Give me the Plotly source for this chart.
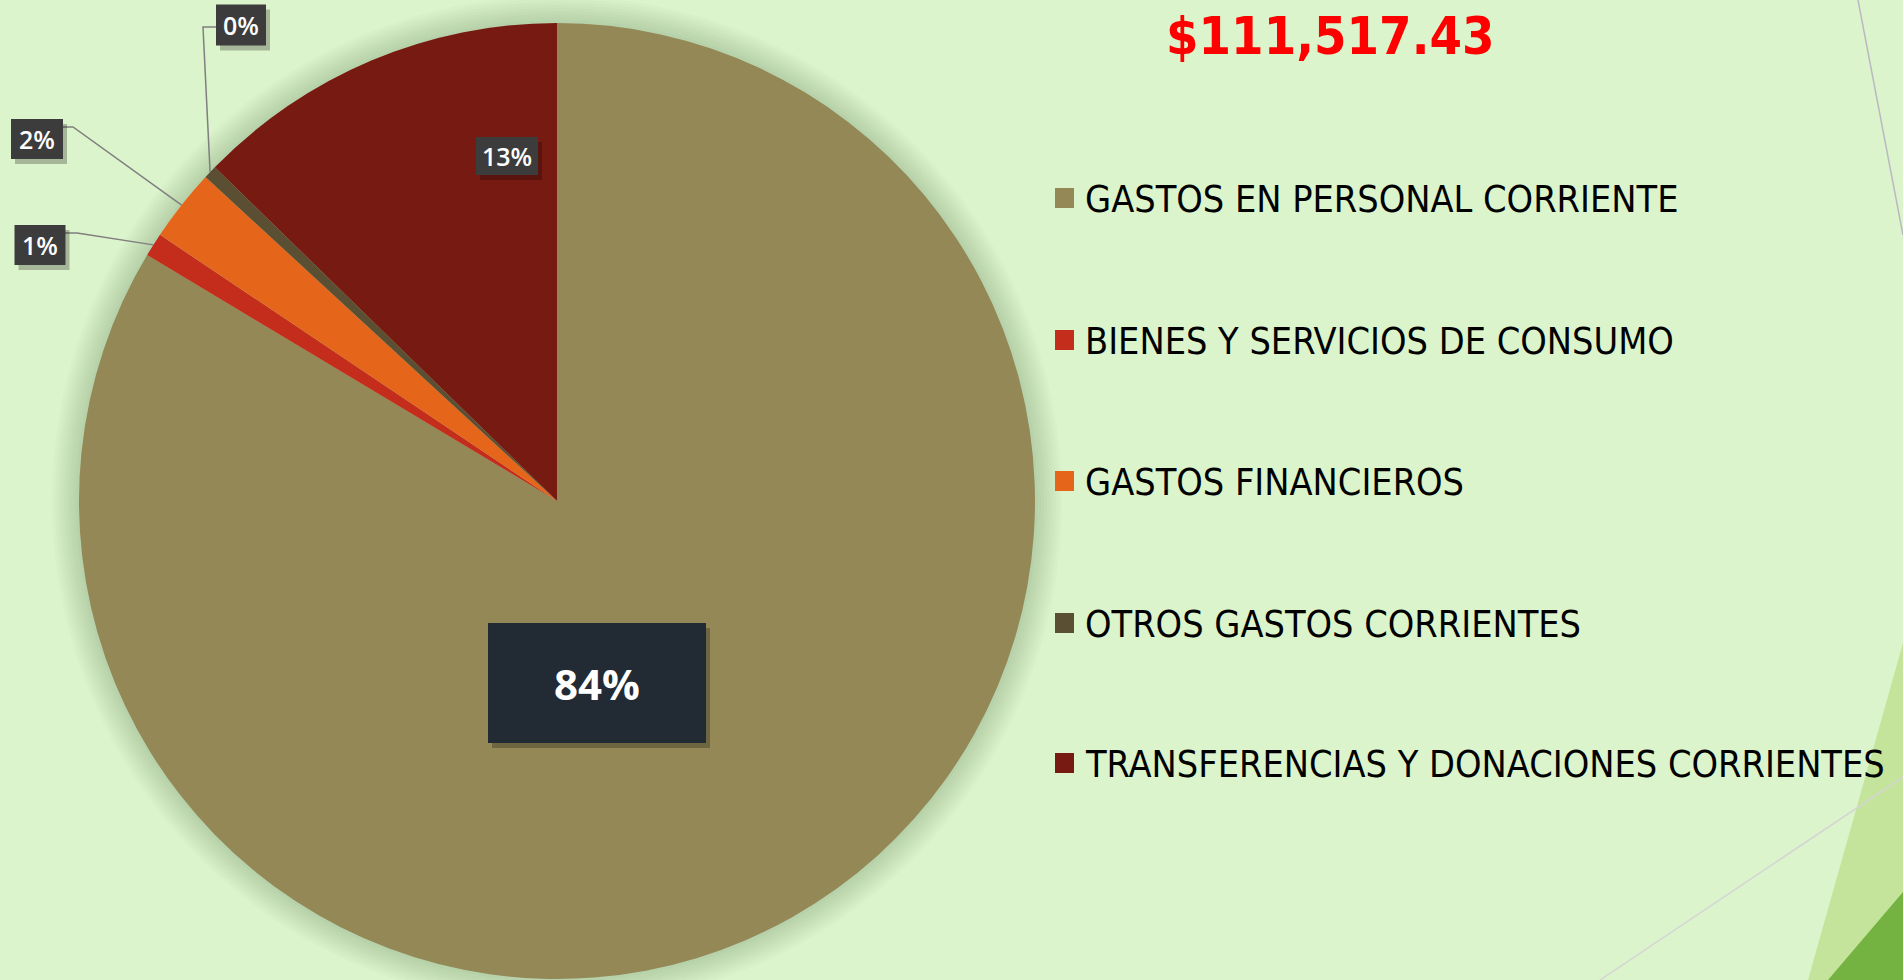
import math
import plotly.graph_objects as go

# datos del gráfico
categorias = [
    "GASTOS EN PERSONAL CORRIENTE",
    "BIENES Y SERVICIOS DE CONSUMO",
    "GASTOS FINANCIEROS",
    "OTROS GASTOS CORRIENTES",
    "TRANSFERENCIAS Y DONACIONES CORRIENTES",
]
montos = [93228.57, 892.14, 2732.18, 501.83, 14162.71]
colores = ["#938856", "#C42C1C", "#E5661B", "#5A4E33", "#771B12"]

W, H = 1903, 980
BG = "#DCF4CB"

# geometría del pastel en píxeles
CX, CY, R = 557, 501, 478


def px(x):
    return x / W


def py(y):
    return 1 - y / H


total = sum(montos)
pcts = [m / total for m in montos]
etiquetas = [f"{round(100 * p):.0f}%" for p in pcts]

fig = go.Figure(go.Pie(
    labels=categorias,
    values=montos,
    marker=dict(colors=colores, line=dict(width=0)),
    sort=False,
    direction="clockwise",
    rotation=0,
    textinfo="none",
    hoverinfo="label+percent",
    showlegend=False,
    domain=dict(x=[px(CX - R), px(CX + R)], y=[py(CY + R), py(CY - R)]),
))

shapes = []

# decoración de la diapositiva
shapes.append(dict(type="path", xref="paper", yref="paper", layer="below",
                   path=f"M {px(1808)} {py(980)} L {px(1903)} {py(643)} L {px(1903)} {py(980)} Z",
                   fillcolor="#C5E49B", line=dict(width=0)))
shapes.append(dict(type="path", xref="paper", yref="paper", layer="below",
                   path=f"M {px(1828)} {py(980)} L {px(1903)} {py(892)} L {px(1903)} {py(980)} Z",
                   fillcolor="#74B242", line=dict(width=0)))
shapes.append(dict(type="line", xref="paper", yref="paper", layer="below",
                   x0=px(1600), y0=py(980), x1=px(1903), y1=py(777),
                   line=dict(color="#D4D4D4", width=1.5)))
shapes.append(dict(type="line", xref="paper", yref="paper", layer="below",
                   x0=px(1858), y0=py(0), x1=px(1903), y1=py(235),
                   line=dict(color="#B9B9C2", width=1.5)))

# sombra suave alrededor del pastel
for d in range(3, 30, 3):
    shapes.append(dict(type="circle", xref="paper", yref="paper", layer="below",
                       x0=px(CX - R - d), x1=px(CX + R + d),
                       y0=py(CY + R + d), y1=py(CY - R - d),
                       fillcolor="rgba(60,100,60,0.028)", line=dict(width=0)))

# posiciones de las cajas de etiquetas (centro x, centro y, ancho, alto) en píxeles
cajas = {
    0: (597, 683, 218, 120),
    1: (40, 245, 51, 40),
    2: (37, 139, 52, 40),
    3: (241, 25, 50, 41),
    4: (507, 156, 62, 38),
}
# líneas guía: punto de inicio en la caja y codo
guias = {
    1: [(65, 233), (77, 233)],
    2: [(62, 127), (73, 127)],
    3: [(216, 27), (203, 27)],
}

acum = 0.0
annotations = []
for i, p in enumerate(pcts):
    medio = acum + p / 2
    acum += p
    ang = math.radians(360 * medio)
    tx, ty = CX + R * math.sin(ang), CY - R * math.cos(ang)
    if i in guias:
        (x0, y0), (x1, y1) = guias[i]
        shapes.append(dict(type="path", xref="paper", yref="paper",
                           path=f"M {px(x0)} {py(y0)} L {px(x1)} {py(y1)} L {px(tx)} {py(ty)}",
                           line=dict(color="#7F7F7F", width=1.5)))
    bx, by, bw, bh = cajas[i]
    fondo = "#222B33" if i == 0 else "#3C3C3C"
    shapes.append(dict(type="rect", xref="paper", yref="paper",
                       x0=px(bx - bw / 2 + 4), x1=px(bx + bw / 2 + 4),
                       y0=py(by + bh / 2 + 5), y1=py(by - bh / 2 + 5),
                       fillcolor="rgba(0,0,0,0.25)", line=dict(width=0)))
    shapes.append(dict(type="rect", xref="paper", yref="paper",
                       x0=px(bx - bw / 2), x1=px(bx + bw / 2),
                       y0=py(by + bh / 2), y1=py(by - bh / 2),
                       fillcolor=fondo, line=dict(width=0)))
    annotations.append(dict(
        x=px(bx), y=py(by), xref="paper", yref="paper", showarrow=False,
        text=etiquetas[i], xanchor="center", yanchor="middle",
        font=dict(family="Open Sans, Liberation Sans, sans-serif",
                  size=42 if i == 0 else 25, color="white",
                  weight="bold" if i == 0 else 600),
    ))

# leyenda dibujada a mano para respetar el espaciado
leg_y = [198, 340, 481, 623, 763]
for cat, col, y in zip(categorias, colores, leg_y):
    shapes.append(dict(type="rect", xref="paper", yref="paper",
                       x0=px(1055), x1=px(1074), y0=py(y + 10), y1=py(y - 10),
                       fillcolor=col, line=dict(width=0)))
    annotations.append(dict(
        x=px(1083), y=py(y + 1), xref="paper", yref="paper", showarrow=False,
        text=cat, xanchor="left", yanchor="middle",
        font=dict(family="DejaVu Sans Condensed, sans-serif",
                  size=37.5, color="black"),
    ))

# total
annotations.append(dict(
    x=px(1330), y=py(36), xref="paper", yref="paper", showarrow=False,
    text=f"${total:,.2f}", xanchor="center", yanchor="middle",
    font=dict(family="DejaVu Sans Condensed, sans-serif",
              size=52, color="#FF0000", weight="bold"),
))

fig.update_layout(
    width=W, height=H,
    margin=dict(l=0, r=0, t=0, b=0),
    paper_bgcolor=BG,
    plot_bgcolor=BG,
    shapes=shapes,
    annotations=annotations,
)

fig.write_html(
    "out.html",
    config={"displayModeBar": False},
    post_script="document.body.style.margin='0';document.body.style.overflow='hidden';",
)
